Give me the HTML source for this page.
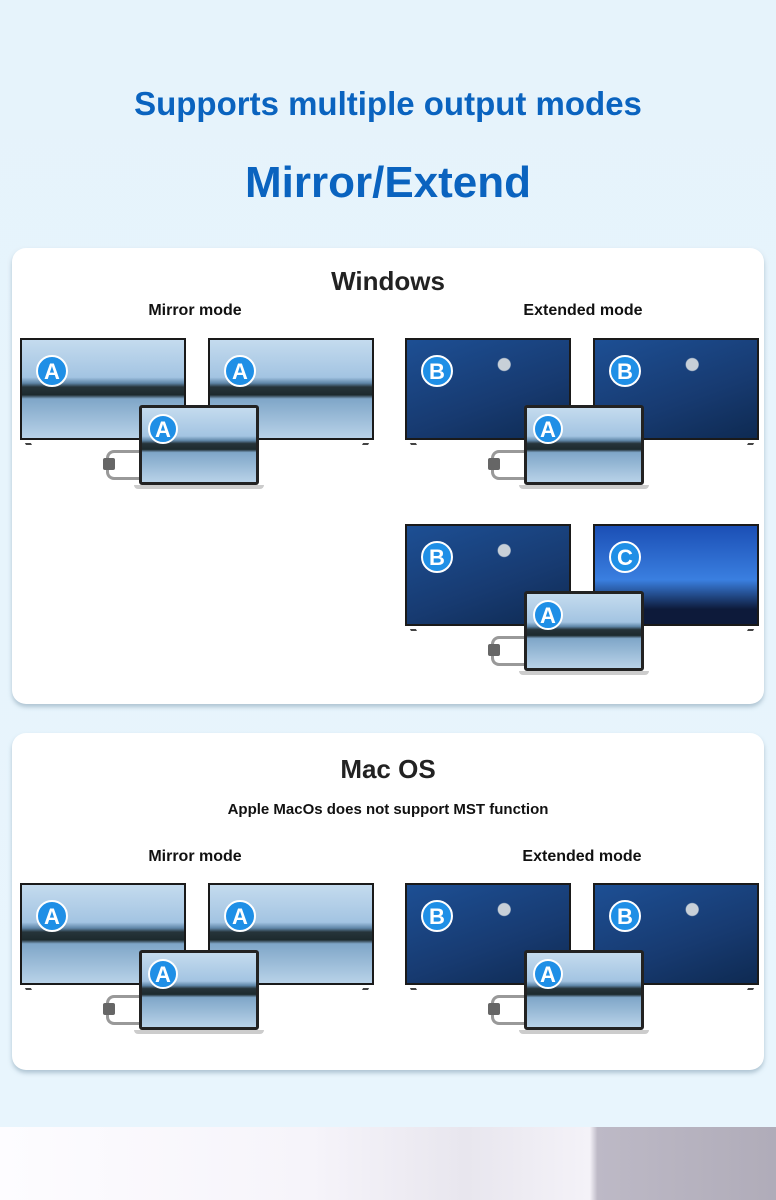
<!DOCTYPE html>
<html><head><meta charset="utf-8"><style>
*{margin:0;padding:0;box-sizing:border-box}
body{width:776px;height:1200px;position:relative;overflow:hidden;background:linear-gradient(#e6f3fb,#e8f5fd 90%);font-family:"Liberation Sans",sans-serif}
.t{position:absolute;left:0;width:776px;text-align:center;color:#0a63bf;font-weight:bold}
.card{position:absolute;left:12px;width:752px;background:#fff;border-radius:14px;box-shadow:0 3px 4px rgba(120,150,170,.5)}
.lbl{position:absolute;font-weight:bold;font-size:16px;color:#111;text-align:center;width:200px}
.g{position:absolute;width:360px;height:150px}
.tv{position:absolute;top:0;width:166px;height:102px;border:2px solid #1a1a1a;background:#222}
.tv::before,.tv::after{content:"";position:absolute;bottom:-7px;width:6px;height:5px;border-bottom:2px solid #444}
.tv::before{left:2px;transform:skewX(30deg)}
.tv::after{right:2px;transform:skewX(-30deg)}
.lap{position:absolute;left:119px;top:67px;width:120px;height:80px;border:3px solid #222;border-radius:3px}
.lap::after{content:"";position:absolute;left:-8px;right:-8px;bottom:-7px;height:4px;background:#ccc;border-radius:0 0 4px 4px}
.A{background:linear-gradient(#c4dbee 0%,#a3c4e2 38%,#5f86a8 44%,#26343a 48%,#1d2a2e 56%,#7fa6c8 60%,#b8d2e8 100%)}
.B{background:radial-gradient(circle at 60% 25%,#c8d0d8 0 6px,transparent 7px),linear-gradient(160deg,#1d4f94,#173a70 60%,#0e2a52)}
.C{background:linear-gradient(#1b4fb5,#3a7fe0 55%,#0d1a3a 85%)}
.bd{position:absolute;left:14px;top:15px;width:32px;height:32px;border-radius:50%;background:#1f8fe6;color:#fff;font-weight:bold;font-size:22px;line-height:30px;text-align:center;border:2px solid #fff}
.lap .bd{left:6px;top:6px;width:30px;height:30px;line-height:27px}
.cab{position:absolute;left:86px;top:112px;width:36px;height:30px;border:3px solid #999;border-right:none;border-radius:8px 0 0 8px}
.cab::before{content:"";position:absolute;left:-6px;top:5px;width:12px;height:12px;background:#666;border-radius:2px}
</style></head><body>
<div class="t" style="top:85px;font-size:33px">Supports multiple output modes</div>
<div class="t" style="top:158px;font-size:44px">Mirror/Extend</div>

<div class="card" style="top:248px;height:456px"></div>
<div class="t" style="top:266px;font-size:26px;color:#222">Windows</div>
<div class="lbl" style="left:95px;top:302px">Mirror mode</div>
<div class="lbl" style="left:483px;top:302px">Extended mode</div>

<div class="card" style="top:733px;height:337px"></div>
<div class="t" style="top:754px;font-size:26px;color:#222">Mac OS</div>
<div class="t" style="top:801px;font-size:15px;color:#111">Apple MacOs does not support MST function</div>
<div class="lbl" style="left:95px;top:848px">Mirror mode</div>
<div class="lbl" style="left:482px;top:848px">Extended mode</div>

<div class="g" style="left:20px;top:338px"><div class="tv A" style="left:0"><div class="bd">A</div></div><div class="tv A" style="left:188px"><div class="bd">A</div></div><div class="cab"></div><div class="lap A"><div class="bd">A</div></div></div>
<div class="g" style="left:405px;top:338px"><div class="tv B" style="left:0"><div class="bd">B</div></div><div class="tv B" style="left:188px"><div class="bd">B</div></div><div class="cab"></div><div class="lap A"><div class="bd">A</div></div></div>
<div class="g" style="left:405px;top:524px"><div class="tv B" style="left:0"><div class="bd">B</div></div><div class="tv C" style="left:188px"><div class="bd">C</div></div><div class="cab"></div><div class="lap A"><div class="bd">A</div></div></div>
<div class="g" style="left:20px;top:883px"><div class="tv A" style="left:0"><div class="bd">A</div></div><div class="tv A" style="left:188px"><div class="bd">A</div></div><div class="cab"></div><div class="lap A"><div class="bd">A</div></div></div>
<div class="g" style="left:405px;top:883px"><div class="tv B" style="left:0"><div class="bd">B</div></div><div class="tv B" style="left:188px"><div class="bd">B</div></div><div class="cab"></div><div class="lap A"><div class="bd">A</div></div></div>

<div style="position:absolute;left:0;top:1127px;width:776px;height:73px;background:linear-gradient(90deg,#fdfcff,#f6f4fa 40%,#e8e6ee 60%,#f4f2f8 76%,#bdb9c6 77%,#b0acb9)"></div>
</body></html>
